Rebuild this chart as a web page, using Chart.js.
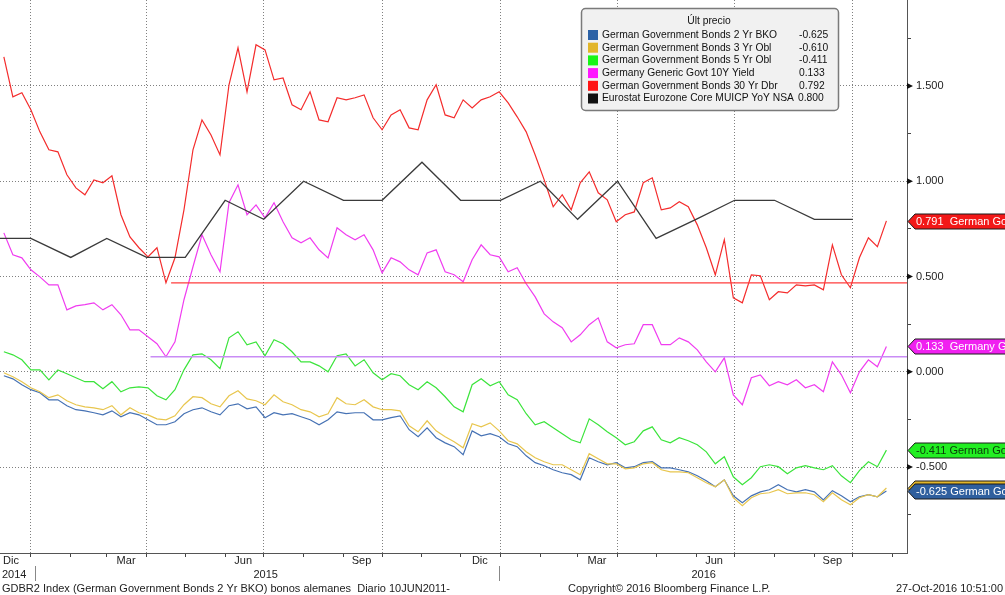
<!DOCTYPE html>
<html>
<head>
<meta charset="utf-8">
<script src="https://cdn.jsdelivr.net/npm/chart.js@4.4.0/dist/chart.umd.min.js"></script>
<style>
    html, body { margin: 0; padding: 0; background: #fff; }
    #wrap { width: 1005px; height: 595px; position: relative; }
</style>
</head>
<body>
<div id="wrap"><canvas id="bondChart"></canvas></div>
<script>
//############################ Data ############################
// weekly closes, first one on 11 Dec 2014, one every 7 days up to 27 Oct 2016
const firstWeek = '2014-12-11';

const bkt2y = [
    -0.021, -0.037, -0.068, -0.094, -0.110, -0.147, -0.147, -0.178, -0.199, -0.205,
    -0.215, -0.226, -0.205, -0.236, -0.215, -0.226, -0.252, -0.278, -0.278, -0.262,
    -0.220, -0.199, -0.189, -0.210, -0.226, -0.178, -0.168, -0.194, -0.184, -0.241,
    -0.215, -0.226, -0.220, -0.236, -0.252, -0.278, -0.252, -0.210, -0.220, -0.215,
    -0.215, -0.252, -0.252, -0.241, -0.231, -0.304, -0.341, -0.294, -0.346, -0.373,
    -0.393, -0.435, -0.310, -0.336, -0.325, -0.341, -0.378, -0.393, -0.441, -0.477,
    -0.493, -0.514, -0.530, -0.540, -0.567, -0.451, -0.472, -0.488, -0.477, -0.504,
    -0.498, -0.477, -0.472, -0.504, -0.504, -0.514, -0.525, -0.546, -0.572, -0.603,
    -0.567, -0.651, -0.687, -0.651, -0.630, -0.619, -0.593, -0.619, -0.630, -0.619,
    -0.630, -0.672, -0.624, -0.651, -0.682, -0.656, -0.645, -0.656, -0.625
];

const obl3y = [
    -0.005, -0.026, -0.052, -0.084, -0.105, -0.136, -0.121, -0.152, -0.173, -0.184,
    -0.189, -0.199, -0.178, -0.226, -0.189, -0.215, -0.226, -0.247, -0.252, -0.231,
    -0.173, -0.131, -0.136, -0.168, -0.184, -0.126, -0.100, -0.142, -0.152, -0.173,
    -0.121, -0.157, -0.173, -0.199, -0.210, -0.236, -0.220, -0.136, -0.168, -0.173,
    -0.147, -0.184, -0.199, -0.199, -0.205, -0.283, -0.315, -0.257, -0.310, -0.341,
    -0.367, -0.399, -0.273, -0.289, -0.268, -0.310, -0.362, -0.378, -0.420, -0.451,
    -0.472, -0.488, -0.488, -0.514, -0.540, -0.430, -0.456, -0.483, -0.483, -0.509,
    -0.504, -0.483, -0.477, -0.514, -0.525, -0.525, -0.530, -0.556, -0.582, -0.603,
    -0.567, -0.661, -0.703, -0.661, -0.640, -0.635, -0.619, -0.640, -0.635, -0.635,
    -0.645, -0.682, -0.635, -0.672, -0.698, -0.661, -0.645, -0.656, -0.610
];

const obl5y = [
    0.105, 0.089, 0.063, 0.010, 0.010, -0.042, 0.010, -0.010, -0.031, -0.052,
    -0.052, -0.089, -0.052, -0.105, -0.084, -0.079, -0.084, -0.126, -0.147, -0.094,
    0.010, 0.089, 0.094, 0.063, 0.016, 0.178, 0.210, 0.142, 0.157, 0.084,
    0.168, 0.147, 0.105, 0.052, 0.052, 0.031, 0.000, 0.084, 0.094, 0.031,
    0.063, -0.005, -0.042, -0.010, -0.021, -0.068, -0.094, -0.052, -0.084, -0.131,
    -0.184, -0.210, -0.068, -0.037, -0.073, -0.052, -0.121, -0.147, -0.220, -0.278,
    -0.262, -0.294, -0.325, -0.357, -0.373, -0.247, -0.278, -0.315, -0.346, -0.383,
    -0.367, -0.310, -0.289, -0.357, -0.373, -0.346, -0.362, -0.383, -0.420, -0.483,
    -0.446, -0.551, -0.593, -0.556, -0.498, -0.488, -0.498, -0.535, -0.504, -0.493,
    -0.504, -0.514, -0.493, -0.546, -0.582, -0.519, -0.472, -0.498, -0.411
];

const govt10y = [
    0.729, 0.614, 0.598, 0.535, 0.498, 0.456, 0.456, 0.325, 0.346, 0.352,
    0.362, 0.325, 0.352, 0.299, 0.220, 0.220, 0.184, 0.147, 0.079, 0.157,
    0.378, 0.551, 0.719, 0.614, 0.525, 0.887, 0.981, 0.824, 0.876, 0.808,
    0.887, 0.787, 0.703, 0.677, 0.703, 0.640, 0.598, 0.756, 0.719, 0.693,
    0.719, 0.640, 0.519, 0.598, 0.577, 0.535, 0.509, 0.624, 0.640, 0.525,
    0.509, 0.472, 0.588, 0.666, 0.614, 0.603, 0.525, 0.546, 0.462, 0.393,
    0.304, 0.262, 0.231, 0.157, 0.194, 0.247, 0.283, 0.157, 0.126, 0.142,
    0.147, 0.247, 0.247, 0.142, 0.142, 0.178, 0.157, 0.115, 0.052, 0.000,
    0.073, -0.121, -0.173, -0.031, -0.016, -0.073, -0.052, -0.068, -0.042, -0.084,
    -0.068, -0.105, 0.052, -0.016, -0.110, 0.000, 0.063, 0.026, 0.133
];

const dbr30y = [
    1.653, 1.443, 1.464, 1.375, 1.259, 1.165, 1.154, 1.034, 0.965, 0.929,
    1.007, 0.992, 1.028, 0.824, 0.708, 0.651, 0.603, 0.651, 0.467, 0.598,
    0.850, 1.165, 1.322, 1.243, 1.138, 1.506, 1.700, 1.469, 1.716, 1.689,
    1.532, 1.542, 1.401, 1.375, 1.469, 1.322, 1.312, 1.438, 1.427, 1.438,
    1.453, 1.333, 1.270, 1.348, 1.375, 1.280, 1.270, 1.427, 1.506, 1.348,
    1.333, 1.427, 1.385, 1.427, 1.443, 1.469, 1.411, 1.338, 1.259, 1.138,
    1.007, 0.866, 0.929, 0.850, 0.992, 1.049, 0.939, 0.902, 0.787, 0.824,
    0.839, 0.992, 1.018, 0.850, 0.860, 0.892, 0.866, 0.771, 0.651, 0.509,
    0.693, 0.388, 0.362, 0.509, 0.504, 0.378, 0.420, 0.414, 0.456, 0.451,
    0.456, 0.430, 0.666, 0.509, 0.441, 0.598, 0.703, 0.656, 0.792
];

// core inflation is monthly, each value sits at the start of the following month
const cpiDates = [
    '2014-12-01', '2015-01-01', '2015-02-01', '2015-03-01', '2015-04-01', '2015-05-01',
    '2015-06-01', '2015-07-01', '2015-08-01', '2015-09-01', '2015-10-01', '2015-11-01',
    '2015-12-01', '2016-01-01', '2016-02-01', '2016-03-01', '2016-04-01', '2016-05-01',
    '2016-06-01', '2016-07-01', '2016-08-01', '2016-09-01', '2016-10-01'
];
const cpiValues = [0.7, 0.7, 0.6, 0.7, 0.6, 0.6, 0.9, 0.8, 1.0, 0.9, 0.9, 1.1,
                   0.9, 0.9, 1.0, 0.8, 1.0, 0.7, 0.8, 0.9, 0.9, 0.8, 0.8];

// horizontal level lines (30yr and 10yr)
const levelValues = [0.467, 0.079];
const levelStarts = ['2015-04-20', '2015-04-04'];

const seriesNames = [
    'German Government Bonds 2 Yr BKO',
    'German Government Bonds 3 Yr Obl',
    'German Government Bonds 5 Yr Obl',
    'Germany Generic Govt 10Y Yield',
    'German Government Bonds 30 Yr Dbr',
    'Eurostat Eurozone Core MUICP YoY NSA'
];
const lastPrices = ['-0.625', '-0.610', '-0.411', '0.133', '0.792', '0.800'];
// badges, drawn back to front: 30yr, 10yr, 5yr, 3yr, 2yr
const badgeTexts = ['0.791  German Go', '0.133  Germany G', '-0.411 German Go', '-0.610 German Go', '-0.625 German Go'];

const monthLabels = ['Dic', 'Mar', 'Jun', 'Sep', 'Dic', 'Mar', 'Jun', 'Sep'];
const monthLabelDates = ['2014-12-16', '2015-03-16', '2015-06-15', '2015-09-15',
                         '2015-12-16', '2016-03-16', '2016-06-15', '2016-09-15'];
const yearLabels = ['2014', '2015', '2016'];
const yTickValues = [-0.75, -0.5, -0.25, 0, 0.25, 0.5, 0.75, 1, 1.25, 1.5, 1.75];

const footerLeft = 'GDBR2 Index (German Government Bonds 2 Yr BKO) bonos alemanes  Diario 10JUN2011-';
const footerMid = 'Copyright\u00A9 2016 Bloomberg Finance L.P.';
const footerRight = '27-Oct-2016 10:51:00';

//############################ Helpers ############################
const dayOf = (s) => (Date.UTC(+s.slice(0, 4), +s.slice(5, 7) - 1, +s.slice(8, 10)) - Date.UTC(2015, 0, 1)) / 86400000;
const X_MIN = dayOf('2014-12-08');
const X_MAX = dayOf('2016-11-12');
const weekDays = bkt2y.map((v, i) => dayOf(firstWeek) + 7 * i);
const toPoints = (values) => values.map((v, i) => ({ x: weekDays[i], y: v }));
const isHalf = (v) => Math.abs(v * 2 - Math.round(v * 2)) < 1e-9;

const monthStarts = [];
const quarterStarts = new Set();
for (let y = 2014; y <= 2016; y++) {
    for (let m = 0; m < 12; m++) {
        const d = (Date.UTC(y, m, 1) - Date.UTC(2015, 0, 1)) / 86400000;
        if (d >= X_MIN && d <= X_MAX) {
            monthStarts.push(d);
            if (m % 3 === 0) quarterStarts.add(d);
        }
    }
}

const FAMILY = '"Liberation Sans", Arial, sans-serif';
const FONT = '11px ' + FAMILY;
const LEGEND_FONT = '10.3px ' + FAMILY;
const legendColors = ['#2c62a6', '#e2b62a', '#16f516', '#ff14ff', '#ff1414', '#111111'];
const lineColors = ['#4672b4', '#e8c64e', '#3be43b', '#f03cf0', '#f42c2c', '#3a3a3a'];
const badgeSeries = [dbr30y, govt10y, obl5y, obl3y, bkt2y];
const badgeFills = ['#f21818', '#f020f0', '#22ee22', '#e2b62a', '#2f5f9e'];
const badgeInk = ['#fff', '#fff', '#0a3a0a', '#000', '#fff'];

//############################ Extra drawing ############################
const decorPlugin = {
    id: 'decor',
    afterDraw(chart) {
        const { ctx, chartArea: area, scales: { x, y } } = chart;
        ctx.save();
        ctx.font = FONT;

        // arrow heads at labelled y ticks
        ctx.fillStyle = '#111';
        yTickValues.filter(isHalf).forEach(v => {
            const py = y.getPixelForValue(v);
            ctx.beginPath();
            ctx.moveTo(area.right, py - 3);
            ctx.lineTo(area.right + 6, py);
            ctx.lineTo(area.right, py + 3);
            ctx.closePath();
            ctx.fill();
        });

        // last value badges on the right
        badgeSeries.forEach((values, k) => {
            const py = Math.round(y.getPixelForValue(values[values.length - 1])) + 0.5;
            const left = area.right + 1, h = 15;
            ctx.beginPath();
            ctx.moveTo(left, py);
            ctx.lineTo(left + 7, py - h / 2);
            ctx.lineTo(chart.width + 5, py - h / 2);
            ctx.lineTo(chart.width + 5, py + h / 2);
            ctx.lineTo(left + 7, py + h / 2);
            ctx.closePath();
            ctx.fillStyle = badgeFills[k];
            ctx.fill();
            ctx.lineWidth = 1;
            ctx.strokeStyle = '#1a1a1a';
            ctx.stroke();
            ctx.fillStyle = badgeInk[k];
            ctx.textAlign = 'left';
            ctx.textBaseline = 'middle';
            ctx.fillText(badgeTexts[k], left + 8, py + 0.5);
        });

        // legend box
        const bx = 581.5, by = 8.5, bw = 257, bh = 102;
        ctx.beginPath();
        ctx.roundRect(bx, by, bw, bh, 4);
        ctx.fillStyle = '#f1f1f1';
        ctx.fill();
        ctx.lineWidth = 1.5;
        ctx.strokeStyle = '#7a7a7a';
        ctx.stroke();
        ctx.font = LEGEND_FONT;
        ctx.fillStyle = '#111';
        ctx.textBaseline = 'middle';
        ctx.textAlign = 'center';
        ctx.fillText('\u00DAlt precio', 709, 21);
        ctx.textAlign = 'left';
        seriesNames.forEach((name, i) => {
            const ry = 35 + 12.7 * i;
            ctx.fillStyle = legendColors[i];
            ctx.fillRect(588, ry - 5, 10, 10);
            ctx.fillStyle = '#111';
            ctx.fillText(name, 602, ry);
            ctx.fillText(lastPrices[i], i === 5 ? 798 : 799, ry);
        });
        ctx.font = FONT;

        // month and year labels under the axis
        ctx.fillStyle = '#222';
        ctx.textAlign = 'center';
        monthLabels.forEach((lab, i) => {
            let px = x.getPixelForValue(dayOf(monthLabelDates[i]));
            px = Math.max(px, 11);
            ctx.fillText(lab, px, 561);
        });
        const y2015 = x.getPixelForValue(dayOf('2015-01-01'));
        const y2016 = x.getPixelForValue(dayOf('2016-01-01'));
        ctx.textAlign = 'left';
        ctx.fillText(yearLabels[0], 2, 575);
        ctx.textAlign = 'center';
        ctx.fillText(yearLabels[1], (y2015 + y2016) / 2, 575);
        ctx.fillText(yearLabels[2], (y2016 + area.right) / 2, 575);
        ctx.strokeStyle = '#888';
        ctx.lineWidth = 1;
        [y2015 + 4, y2016 - 1].forEach(px => {
            ctx.beginPath();
            ctx.moveTo(Math.round(px) + 0.5, 566);
            ctx.lineTo(Math.round(px) + 0.5, 581);
            ctx.stroke();
        });

        // footer
        ctx.fillStyle = '#222';
        ctx.textAlign = 'left';
        ctx.fillText(footerLeft, 2, 589);
        ctx.fillText(footerMid, 568, 589);
        ctx.textAlign = 'right';
        ctx.fillText(footerRight, 1003, 589);
        ctx.restore();
    }
};

//############################ Chart ############################
const lineSet = (label, data, color, width) => ({
    label: label,
    data: data,
    borderColor: color,
    borderWidth: width || 1.2,
    pointRadius: 0,
    fill: false,
    tension: 0,
});

const levelLine = (k) => [
    { x: dayOf(levelStarts[k]), y: levelValues[k] },
    { x: X_MAX, y: levelValues[k] },
];

const bondChart = new Chart(document.getElementById('bondChart'), {
    type: 'line',
    data: {
        datasets: [
            lineSet('level 30', levelLine(0), '#ff3c3c', 1.2),
            lineSet('level 10', levelLine(1), '#c98cf5', 1.6),
            lineSet(seriesNames[5], cpiDates.map((d, i) => ({ x: dayOf(d), y: cpiValues[i] })), lineColors[5], 1.3),
            lineSet(seriesNames[4], toPoints(dbr30y), lineColors[4]),
            lineSet(seriesNames[3], toPoints(govt10y), lineColors[3]),
            lineSet(seriesNames[2], toPoints(obl5y), lineColors[2]),
            lineSet(seriesNames[1], toPoints(obl3y), lineColors[1]),
            lineSet(seriesNames[0], toPoints(bkt2y), lineColors[0]),
        ],
    },
    options: {
        responsive: true,
        maintainAspectRatio: false,
        animation: false,
        layout: { padding: 0 },
        plugins: {
            legend: { display: false },
            tooltip: { enabled: false },
        },
        scales: {
            x: {
                type: 'linear',
                min: X_MIN,
                max: X_MAX,
                afterBuildTicks: (scale) => { scale.ticks = monthStarts.map(v => ({ value: v })); },
                afterFit: (scale) => {
                    scale.height = 42;
                    scale.paddingLeft = 0;
                    scale.paddingRight = 0;
                },
                ticks: { display: false },
                grid: {
                    color: (c) => (c.tick && quarterStarts.has(c.tick.value)) ? '#808080' : 'rgba(0,0,0,0)',
                    tickColor: '#444',
                    tickLength: 4,
                    lineWidth: 1,
                },
                border: { display: true, color: '#555', width: 1, dash: [1, 2] },
            },
            y: {
                position: 'right',
                min: -0.951,
                max: 1.951,
                afterBuildTicks: (scale) => { scale.ticks = yTickValues.map(v => ({ value: v })); },
                afterFit: (scale) => {
                    scale.width = 98;
                    scale.paddingTop = 0;
                    scale.paddingBottom = 0;
                },
                ticks: {
                    padding: 5,
                    color: '#222',
                    font: { family: FAMILY, size: 11 },
                    callback: (v) => isHalf(v) ? v.toFixed(3) : '',
                },
                grid: {
                    color: (c) => (c.tick && isHalf(c.tick.value)) ? '#808080' : 'rgba(0,0,0,0)',
                    tickColor: '#444',
                    tickLength: 4,
                    lineWidth: 1,
                },
                border: { display: true, color: '#555', width: 1, dash: [1, 2] },
            },
        },
    },
    plugins: [decorPlugin],
});
</script>
</body>
</html>
